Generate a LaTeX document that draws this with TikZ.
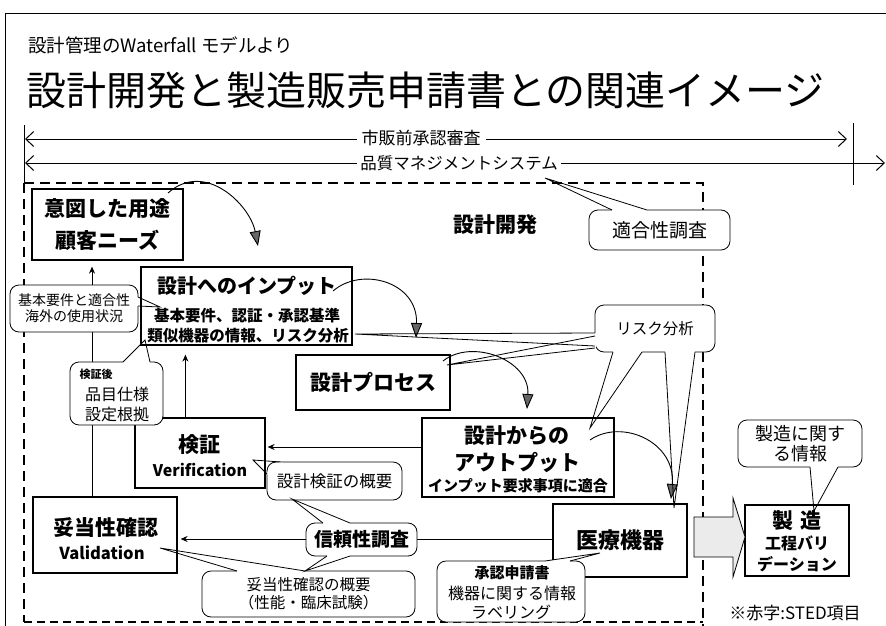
\documentclass[tikz,border=0pt]{standalone}
\usepackage{fontspec}
\setmainfont{Noto Sans CJK JP}
\usetikzlibrary{arrows.meta,calc}
\begin{document}
\begin{tikzpicture}[x=1pt,y=-1pt,
  fs/.style={font=\fontsize{#1}{#1}\selectfont},
  bfs/.style={font=\fontsize{#1}{#1}\selectfont\bfseries},
  txt/.style={inner sep=0pt, outer sep=0pt},
  box/.style={draw, line width=1.2pt, fill=white, inner sep=0pt},
  call/.style={draw, line width=0.8pt, rounded corners=9pt, fill=white, inner sep=0pt, align=center},
  sarrow/.style={line width=1pt, -{Stealth[length=7pt,width=6pt]}},
  carrow/.style={line width=0.9pt, -{Triangle[length=15pt,width=11pt,fill=black!60]}},
  barb/.style={line width=1pt, {Straight Barb[length=8pt,width=15pt]}-{Straight Barb[length=8pt,width=15pt]}},
  dsh/.style={line width=1.6pt, dash pattern=on 10pt off 6pt},
  dshb/.style={line width=2.4pt, dash pattern=on 8pt off 5pt},
  wedge/.style={line width=0.8pt},
  erase/.style={draw=white, line width=1.8pt}
]
\useasboundingbox (0,0) rectangle (886,626);
\fill[white] (0,0) rectangle (886,626);

% outer frame
\coordinate (fbl) at (5,626); \coordinate (ftl) at (5,13); \coordinate (ftr) at (886,13);
\draw[line width=0.8pt] (fbl) -- (ftl) -- (ftr);

% titles
\node[txt, anchor=west, fs=18.5] (t1) at (28,45) {設計管理のWaterfall モデルより};
\node[txt, anchor=west, fs=40] (t2) at (26,90) {設計開発と製造販売申請書との関連イメージ};

% span ticks and arrows
\coordinate (tkl1) at (24,125); \coordinate (tkl2) at (24,183);
\coordinate (tkr1) at (853,123); \coordinate (tkr2) at (853,185);
\draw[line width=1pt] (tkl1) -- (tkl2);
\draw[line width=1pt] (tkr1) -- (tkr2);
\coordinate (a1l) at (25,139); \coordinate (a1r) at (847,139);
\coordinate (a2l) at (25,163); \coordinate (a2r) at (885,163);
\draw[barb] (a1l) -- (a1r);
\draw[barb] (a2l) -- (a2r);
\node[fill=white, fs=17, inner xsep=5pt, inner ysep=1pt] (pma) at (421,138) {市販前承認審査};
\node[fill=white, fs=16.5, inner xsep=3pt, inner ysep=1pt] (qms) at (459,163) {品質マネジメントシステム};

% design development region (dashed)
\coordinate (dtr) at (703,183); \coordinate (dbr) at (703,626);
\coordinate (dbl) at (24,622); \coordinate (dbr2) at (703,622);
\draw[dsh] (tkl2) -- (dtr) -- (dbr);
\draw[dsh] (tkl2) -- (dbl);
\draw[dshb] (dbl) -- (dbr2);
\node[txt, bfs=21] (dd) at (495,225) {設計開発};

% main boxes
\node[box, minimum width=151pt, minimum height=71pt, align=center,
      font=\fontsize{21}{32}\selectfont\bfseries] (intent) at (107.5,224.5) {意図した用途\\顧客ニーズ};
\node[box, minimum width=211pt, minimum height=78pt] (input) at (246.5,306) {};
\node[txt, bfs=20] (inputT) at (247,286) {設計へのインプット};
\node[txt, bfs=15.5] (inputA) at (247,316) {基本要件、認証・承認基準};
\node[txt, bfs=15.5] (inputB) at (248,336) {類似機器の情報、リスク分析};

\node[box, minimum width=154pt, minimum height=55pt, bfs=21] (proc) at (373,382.5) {設計プロセス};

\node[box, minimum width=192pt, minimum height=79pt] (output) at (518,457.5) {};
\node[txt, bfs=21] (outA) at (517,436) {設計からの};
\node[txt, bfs=21] (outB) at (517,462) {アウトプット};
\node[txt, bfs=15] (outC) at (518,486) {インプット要求事項に適合};

\node[box, minimum width=130pt, minimum height=70pt] (verif) at (200,453) {};
\node[txt, bfs=21] (verifA) at (199,445) {検証};
\node[txt, bfs=16] (verifB) at (200,470) {Verification};

\node[box, minimum width=144pt, minimum height=76pt] (valid) at (105,535) {};
\node[txt, bfs=21] (validA) at (106,528) {妥当性確認};
\node[txt, bfs=16.5] (validB) at (102,553) {Validation};

\node[box, minimum width=134pt, minimum height=73pt, bfs=22] (device) at (620,540.5) {医療機器};

\node[box, minimum width=104pt, minimum height=71pt] (mfg) at (797,540.5) {};
\node[txt, bfs=21] (mfgA) at (797,521) {製\hspace{7pt}造};
\node[txt, bfs=16] (mfgB) at (797,543) {工程バリ};
\node[txt, bfs=16] (mfgC) at (797,564) {デーション};

% straight arrows
\draw[sarrow, shorten >=6pt] ([xshift=-13pt]valid.north) -- ([xshift=-13pt]valid.north |- intent.south);
\draw[sarrow, shorten >=9pt] ([xshift=51pt]verif.north west) -- ([xshift=51pt]verif.north west |- input.south);
\draw[sarrow, shorten >=2pt] ([yshift=10.5pt]output.west) -- ([yshift=10.5pt]output.west -| verif.east);
\draw[sarrow, shorten >=3pt] ([yshift=1.5pt]device.west) -- ([yshift=1.5pt]device.west -| valid.east);

% curved process arrows
\coordinate (c1s) at (168,193); \coordinate (c1e) at (258,246);
\coordinate (c2s) at (333,291); \coordinate (c2e) at (416,338);
\coordinate (c3s) at (443,361); \coordinate (c3e) at (527,409);
\coordinate (c4s) at (590,440); \coordinate (c4e) at (671,499);
\draw[carrow] (c1s) .. controls (205,160) and (250,205) .. (c1e);
\draw[carrow] (c2s) .. controls (362,266) and (418,282) .. (c2e);
\draw[carrow] (c3s) .. controls (472,338) and (530,360) .. (c3e);
\draw[carrow] (c4s) .. controls (622,418) and (676,442) .. (c4e);

% block arrow device -> manufacturing
\draw[line width=0.8pt, fill=black!8, line join=miter]
  (694,517) -- (733,517) -- (733,498) -- (745,537) -- (733,577) -- (733,557) -- (694,557) -- cycle;

% ---- callouts ----
% 適合性調査
\node[call, minimum width=141pt, minimum height=40pt, fs=19] (fit) at (659.5,230) {適合性調査};
\coordinate (fitb1) at (612,210); \coordinate (fitb2) at (647,210); \coordinate (fitt) at (545,178);
\draw[erase] (fitb1) -- (fitb2);
\draw[wedge] (fitb1) -- (fitt) -- (fitb2);

% リスク分析
\node[call, minimum width=120pt, minimum height=47pt, fs=15.5] (risk) at (655,328.5) {リスク分析};
\coordinate (r1a) at (595,333); \coordinate (r1b) at (595,346); \coordinate (r1t) at (355,334);
\coordinate (r2a) at (595,336); \coordinate (r2b) at (595,348); \coordinate (r2t) at (447,365);
\coordinate (r3a) at (613,352); \coordinate (r3b) at (642,352); \coordinate (r3t) at (590,428);
\coordinate (r4a) at (665,352); \coordinate (r4b) at (695,352); \coordinate (r4t) at (674,508);
\draw[erase] (r1a) -- (r2b);
\draw[erase] (r3a) -- (r3b);
\draw[erase] (r4a) -- (r4b);
\draw[wedge] (r1a) -- (r1t) -- (r1b);
\draw[wedge] (r2a) -- (r2t) -- (r2b);
\draw[wedge] (r3a) -- (r3t) -- (r3b);
\draw[wedge] (r4a) -- (r4t) -- (r4b);

% 基本要件と適合性
\node[call, minimum width=128pt, minimum height=47pt, font=\fontsize{14}{16}\selectfont] (kihon) at (74,308.5) {基本要件と適合性\\海外の使用状況};
\coordinate (kb1) at (138,297); \coordinate (kb2) at (138,306); \coordinate (kt) at (160,307);
\draw[erase] (kb1) -- (kb2);
\draw[wedge] (kb1) -- (kt) -- (kb2);

% 検証後 品目仕様 設定根拠
\node[call, minimum width=93pt, minimum height=63pt] (spec) at (116.5,393.5) {};
\node[txt, bfs=11] (specA) at (96,374) {検証後};
\node[txt, fs=16] (specB) at (117,394) {品目仕様};
\node[txt, fs=16] (specC) at (117,414) {設定根拠};
\coordinate (sb1) at (123,362); \coordinate (sb2) at (150,362); \coordinate (st) at (145,340);
\draw[erase] (sb1) -- (sb2);
\draw[wedge] (sb1) -- (st) -- (sb2);

% 設計検証の概要
\node[call, minimum width=135pt, minimum height=38pt, fs=16.5] (vsum) at (334.5,481) {設計検証の概要};
\coordinate (vb1) at (267,474); \coordinate (vb2) at (281,462); \coordinate (vt) at (253,460);
\draw[erase] (vb1) -- (vb2);
\draw[wedge] (vb1) -- (vt) -- (vb2);

% 妥当性確認の概要
\node[call, minimum width=213pt, minimum height=46pt, font=\fontsize{15.5}{18}\selectfont] (valsum) at (308.5,594) {妥当性確認の概要\\（性能・臨床試験）};
\coordinate (pb1) at (237,571); \coordinate (pb2) at (305,571); \coordinate (pt) at (160,548);
\draw[erase] (pb1) -- (pb2);
\draw[wedge] (pb1) -- (pt) -- (pb2);

% 信頼性調査
\node[call, minimum width=111pt, minimum height=33pt, bfs=19] (rel) at (361.5,539.5) {信頼性調査};
\coordinate (qb1) at (323,523); \coordinate (qb2) at (350,523); \coordinate (qt) at (292,499);
\coordinate (qd1) at (327,556); \coordinate (qd2) at (350,556); \coordinate (qdt) at (305,571);
\draw[erase] (qb1) -- (qb2);
\draw[erase] (qd1) -- (qd2);
\draw[wedge] (qb1) -- (qt) -- (qb2);
\draw[wedge] (qd1) -- (qdt) -- (qd2);

% 承認申請書
\node[call, minimum width=148pt, minimum height=61pt] (appl) at (511,591.5) {};
\node[txt, bfs=15] (applA) at (512,573) {承認申請書};
\node[txt, fs=16] (applB) at (512,593) {機器に関する情報};
\node[txt, fs=16] (applC) at (511,612) {ラベリング};
\coordinate (ab1) at (545,561); \coordinate (ab2) at (570,561); \coordinate (at) at (600,553);
\draw[erase] (ab1) -- (ab2);
\draw[wedge] (ab1) -- (at) -- (ab2);

% 製造に関する情報
\node[call, minimum width=124pt, minimum height=47pt, font=\fontsize{18}{20}\selectfont] (minfo) at (800,443.5) {製造に関す\\る情報};
\coordinate (mb1) at (810,467); \coordinate (mb2) at (838,467); \coordinate (mt) at (814,511);
\draw[erase] (mb1) -- (mb2);
\draw[wedge] (mb1) -- (mt) -- (mb2);

% note
\node[txt, fs=17] (note) at (795,613) {※赤字:STED項目};
\end{tikzpicture}
\end{document}
